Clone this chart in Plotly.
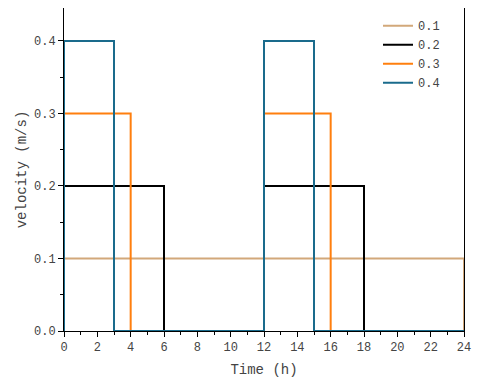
import plotly.graph_objects as go

# step profiles: velocity (m/s) vs time (h)
labels = ['0.1', '0.2', '0.3', '0.4']
time_01 = [0, 0, 24, 24]
vel_01 = [0, 0.1, 0.1, 0]
time_02 = [0, 0, 6, 12, 18, 24]
vel_02 = [0, 0.2, 0, 0.2, 0, 0]
time_03 = [0, 0, 4, 12, 16, 24]
vel_03 = [0, 0.3, 0, 0.3, 0, 0]
time_04 = [0, 0, 3, 12, 15, 24]
vel_04 = [0, 0.4, 0, 0.4, 0, 0]

colors = ['#d2a87a', '#000000', '#ff7f0e', '#1a6b8c']
font = 'Liberation Mono'

fig = go.Figure()
for name, t, v, c in zip(labels,
                         [time_01, time_02, time_03, time_04],
                         [vel_01, vel_02, vel_03, vel_04],
                         colors):
    fig.add_trace(go.Scatter(x=t, y=v, name=name, mode='lines',
                             line=dict(color=c, width=2, shape='hv')))

axis_common = dict(showline=True, linecolor='black', linewidth=1, mirror=True,
                   showgrid=False, zeroline=False, ticks='outside',
                   ticklen=5, tickcolor='black', automargin=False,
                   ticklabeloverflow='allow',
                   tickfont=dict(family=font, size=12, color='#444'))

fig.update_xaxes(range=[0, 24], dtick=2, title=dict(text='Time (h)', standoff=9,
                 font=dict(family=font, size=14, color='#444')),
                 minor=dict(dtick=1, ticks='outside', ticklen=3, tickcolor='black'),
                 **axis_common)
fig.update_yaxes(range=[0, 0.4455], dtick=0.1, tickformat='.1f',
                 title=dict(text='velocity (m/s)', standoff=4,
                            font=dict(family=font, size=14, color='#444')),
                 minor=dict(dtick=0.05, ticks='outside', ticklen=3, tickcolor='black'),
                 **axis_common)

# page body has an 8px margin, so the figure has to fit in 464 px
fig.update_layout(
    width=464, height=373,
    margin=dict(l=56, r=8, t=0, b=50),
    plot_bgcolor='white', paper_bgcolor='white',
    legend=dict(x=0.785, y=0.99, xanchor='left', yanchor='top',
                bgcolor='rgba(0,0,0,0)', tracegroupgap=0,
                font=dict(family=font, size=12, color='#444')),
)

fig.write_html("out.html")
